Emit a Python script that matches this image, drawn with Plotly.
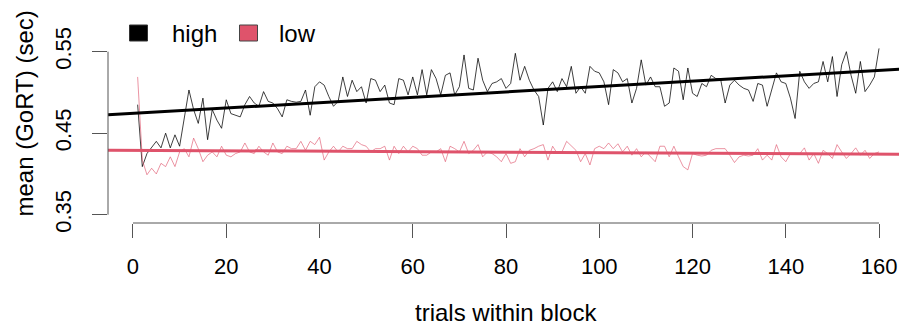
import numpy as np
import plotly.graph_objects as go

# ---- data ----
trials = list(range(1, 161))

high = [
    0.485, 0.409, 0.425, 0.432, 0.440, 0.432, 0.450, 0.432, 0.448, 0.434,
    0.470, 0.503, 0.479, 0.462, 0.493, 0.442, 0.479, 0.466, 0.456, 0.491,
    0.474, 0.472, 0.470, 0.485, 0.495, 0.487, 0.483, 0.501, 0.489, 0.487,
    0.480, 0.470, 0.491, 0.489, 0.488, 0.489, 0.503, 0.472, 0.507, 0.513,
    0.509, 0.495, 0.483, 0.489, 0.519, 0.495, 0.515, 0.501, 0.507, 0.487,
    0.517, 0.515, 0.501, 0.509, 0.487, 0.485, 0.517, 0.515, 0.497, 0.519,
    0.497, 0.528, 0.497, 0.528, 0.517, 0.497, 0.521, 0.524, 0.497, 0.507,
    0.546, 0.505, 0.503, 0.542, 0.515, 0.501, 0.511, 0.513, 0.517, 0.505,
    0.511, 0.548, 0.515, 0.532, 0.515, 0.503, 0.495, 0.460, 0.505, 0.513,
    0.501, 0.517, 0.507, 0.532, 0.499, 0.507, 0.499, 0.532, 0.526, 0.524,
    0.513, 0.485, 0.528, 0.524, 0.513, 0.517, 0.487, 0.505, 0.540, 0.509,
    0.519, 0.507, 0.507, 0.483, 0.487, 0.530, 0.526, 0.491, 0.530, 0.499,
    0.495, 0.511, 0.507, 0.521, 0.517, 0.517, 0.487, 0.509, 0.515, 0.509,
    0.505, 0.503, 0.489, 0.511, 0.509, 0.483, 0.503, 0.524, 0.513, 0.511,
    0.493, 0.468, 0.526, 0.513, 0.505, 0.511, 0.513, 0.538, 0.513, 0.544,
    0.495, 0.534, 0.550, 0.521, 0.499, 0.538, 0.501, 0.509, 0.519, 0.554,
]

low = [
    0.519, 0.417, 0.399, 0.407, 0.400, 0.413, 0.409, 0.421, 0.409, 0.427,
    0.431, 0.421, 0.444, 0.431, 0.415, 0.423, 0.427, 0.421, 0.434, 0.423,
    0.421, 0.425, 0.427, 0.438, 0.427, 0.425, 0.434, 0.427, 0.423, 0.438,
    0.427, 0.425, 0.434, 0.431, 0.431, 0.440, 0.429, 0.440, 0.436, 0.445,
    0.417, 0.427, 0.434, 0.427, 0.434, 0.431, 0.431, 0.440, 0.436, 0.434,
    0.427, 0.431, 0.431, 0.434, 0.417, 0.434, 0.425, 0.434, 0.427, 0.434,
    0.431, 0.423, 0.423, 0.427, 0.427, 0.431, 0.415, 0.434, 0.431, 0.427,
    0.440, 0.425, 0.429, 0.436, 0.421, 0.427, 0.425, 0.421, 0.415, 0.425,
    0.413, 0.415, 0.431, 0.421, 0.429, 0.431, 0.434, 0.436, 0.417, 0.434,
    0.425, 0.427, 0.440, 0.434, 0.429, 0.415, 0.425, 0.411, 0.431, 0.434,
    0.431, 0.438, 0.431, 0.437, 0.427, 0.434, 0.423, 0.431, 0.421, 0.427,
    0.421, 0.415, 0.434, 0.434, 0.421, 0.434, 0.421, 0.409, 0.405, 0.425,
    0.423, 0.422, 0.423, 0.429, 0.431, 0.431, 0.431, 0.423, 0.414, 0.421,
    0.423, 0.422, 0.423, 0.431, 0.417, 0.423, 0.417, 0.436, 0.421, 0.415,
    0.425, 0.425, 0.425, 0.432, 0.417, 0.425, 0.413, 0.429, 0.425, 0.419,
    0.436, 0.427, 0.419, 0.425, 0.432, 0.423, 0.429, 0.419, 0.425, 0.427,
]

series_names = ["high", "low"]
x_ticks = [0, 20, 40, 60, 80, 100, 120, 140, 160]
y_ticks = [0.35, 0.45, 0.55]
y_tick_labels = ["0.35", "0.45", "0.55"]
x_title = "trials within block"
y_title = "mean (GoRT) (sec)"

# ---- styling ----
PINK = "#DF536B"
FONT = "Liberation Sans, Arial, sans-serif"
OFF = 8  # page body margin of the viewer, compensated here
W, H = 907 - OFF, 327 - OFF
ML, MR, MT = 108 - OFF, 0, 45 - OFF
MB = H - (223 - OFF)
x_range = [-5.36, 166.0]
y_range = [0.3398, 0.5582]

pw = W - ML - MR
ph = H - MT - MB


def px_to_paper_x(px):
    # px in window coordinates
    return (px - OFF - ML) / pw


def px_to_paper_y(py):
    return (H - MB - (py - OFF)) / ph


fig = go.Figure()

fig.add_trace(go.Scatter(x=trials, y=high, mode="lines",
                         line=dict(color="rgba(0,0,0,0.75)", width=1),
                         showlegend=False, hoverinfo="skip"))
fig.add_trace(go.Scatter(x=trials, y=low, mode="lines",
                         line=dict(color="rgba(223,83,107,0.62)", width=1),
                         showlegend=False, hoverinfo="skip"))

# regression lines (abline of lm fit) across the full plot width
for vals, col in ((high, "black"), (low, PINK)):
    slope, icpt = np.polyfit(trials, vals, 1)
    xs = np.array(x_range)
    fig.add_trace(go.Scatter(x=xs, y=icpt + slope * xs, mode="lines",
                             line=dict(color=col, width=3),
                             showlegend=False, hoverinfo="skip"))

shapes = [
    # x axis line (from first to last tick)
    dict(type="line", xref="x", yref="paper", x0=x_ticks[0], x1=x_ticks[-1],
         y0=0, y1=0, line=dict(color="#555", width=1)),
    # y axis line
    dict(type="line", xref="paper", yref="y", x0=0, x1=0,
         y0=y_ticks[0], y1=y_ticks[-1], line=dict(color="#555", width=1)),
    # legend keys
    dict(type="rect", xref="paper", yref="paper",
         x0=px_to_paper_x(129.5), x1=px_to_paper_x(147.5),
         y0=px_to_paper_y(41), y1=px_to_paper_y(25),
         fillcolor="black", line=dict(color="#333", width=1)),
    dict(type="rect", xref="paper", yref="paper",
         x0=px_to_paper_x(239.5), x1=px_to_paper_x(257.5),
         y0=px_to_paper_y(41), y1=px_to_paper_y(25),
         fillcolor=PINK, line=dict(color="#444", width=1)),
]

annotations = [
    dict(text=x_title, xref="x", yref="paper", x=80, y=px_to_paper_y(312),
         xanchor="center", yanchor="middle", showarrow=False,
         font=dict(size=24, color="black", family=FONT)),
    dict(text=y_title, xref="paper", yref="paper", x=px_to_paper_x(24),
         y=px_to_paper_y(113.5), xanchor="center", yanchor="middle",
         textangle=-90, showarrow=False,
         font=dict(size=24, color="black", family=FONT)),
    dict(text=series_names[0], xref="paper", yref="paper",
         x=px_to_paper_x(170), y=px_to_paper_y(34), xanchor="left",
         yanchor="middle", showarrow=False,
         font=dict(size=24, color="black", family=FONT)),
    dict(text=series_names[1], xref="paper", yref="paper",
         x=px_to_paper_x(277), y=px_to_paper_y(34), xanchor="left",
         yanchor="middle", showarrow=False,
         font=dict(size=24, color="black", family=FONT)),
]

fig.update_layout(
    width=W, height=H,
    margin=dict(l=ML, r=MR, t=MT, b=MB, pad=0),
    plot_bgcolor="white", paper_bgcolor="white",
    shapes=shapes, annotations=annotations,
    showlegend=False,
    font=dict(family=FONT, color="black"),
    xaxis=dict(range=x_range, showgrid=False, zeroline=False, showline=False,
               tickmode="array", tickvals=x_ticks, ticks="outside", ticklen=14,
               tickcolor="#555", tickwidth=1, ticklabelstandoff=10,
               tickfont=dict(size=22, color="black", family=FONT)),
    yaxis=dict(range=y_range, showgrid=False, zeroline=False, showline=False,
               tickmode="array", tickvals=y_ticks, ticktext=y_tick_labels,
               ticks="outside", ticklen=15, tickcolor="#555", tickwidth=1,
               tickangle=-90, ticklabelstandoff=12,
               tickfont=dict(size=22, color="black", family=FONT)),
)

fig.write_html("out.html")
